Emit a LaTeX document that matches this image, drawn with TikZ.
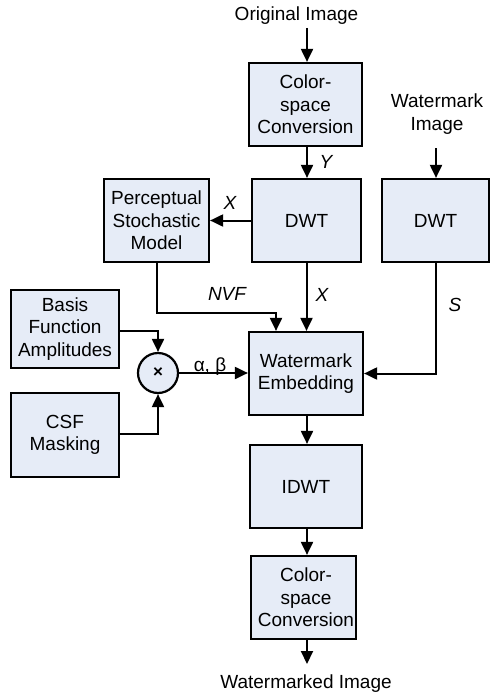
\documentclass[tikz,border=0pt]{standalone}
\usepackage{fontspec}
\setmainfont{Liberation Sans}
\usetikzlibrary{arrows.meta}
\definecolor{boxfill}{RGB}{230,236,247}
\begin{document}
\begin{tikzpicture}[x=1pt,y=-1pt,
  font=\fontsize{19}{22.5}\selectfont,
  blk/.style={draw=black,fill=boxfill,line width=2.2pt,inner sep=0pt,align=center},
  arr/.style={line width=2pt,-{Triangle[length=13pt,width=12pt]}},
  lbl/.style={inner sep=0pt,font=\fontsize{19}{22.5}\selectfont\itshape},
  txt/.style={inner sep=0pt,align=center}]
\useasboundingbox (0,0) rectangle (490,693);
% boxes
\node[blk,minimum width=113pt,minimum height=83pt] (cs1) at (305.5,104.5) {Color-\\space\\Conversion};
\node[blk,minimum width=109pt,minimum height=83pt] (dwt1) at (306.5,220.5) {DWT};
\node[blk,minimum width=107pt,minimum height=83pt] (dwt2) at (435.5,220.5) {DWT};
\node[blk,minimum width=105pt,minimum height=83pt] (psm) at (156.5,220.5) {Perceptual\\Stochastic\\Model};
\node[blk,minimum width=108pt,minimum height=78pt] (basis) at (65,329) {Basis\\Function\\Amplitudes};
\node[blk,minimum width=108pt,minimum height=84pt] (csf) at (65,435) {CSF\\Masking};
\node[blk,circle,minimum size=40pt] (mul) at (158,373) {\fontsize{17}{18}\selectfont\bfseries ×};
\node[blk,minimum width=114pt,minimum height=83pt] (we) at (306,373.5) {Watermark\\Embedding};
\node[blk,minimum width=112pt,minimum height=83pt] (idwt) at (306,486.5) {IDWT};
\node[blk,minimum width=105pt,minimum height=83pt] (cs2) at (303.5,597.5) {};
\node[txt] (cs2t) at (306,597.5) {Color-\\space\\Conversion};
% texts
\node[txt,anchor=base] (orig) at (296.5,21) {Original Image};
\coordinate (origb) at (307,28);
\node[txt] (wmi) at (437,114) {Watermark\\Image};
\coordinate (wmib) at (436,148);
\node[txt,anchor=base] (out) at (306,688) {Watermarked Image};
\coordinate (outt) at (307,664);
% connectors
\draw[arr] (origb) -- (origb |- cs1.north);
\draw[arr] (cs1.south -| origb) -- (origb |- dwt1.north);
\draw[arr] (dwt1.west) -- (psm.east);
\draw[arr] (dwt1.south) -- (dwt1.south |- we.north);
\draw[arr] (psm.south) -- (psm.south |- 0,313) -| ([xshift=-30pt]we.north);
\draw[arr] (wmib) -- (wmib |- dwt2.north);
\draw[arr] (dwt2.south) |- (we.east);
\draw[arr] ([yshift=-2pt]basis.east) -| (mul.north);
\draw[arr] ([yshift=1pt]csf.east) -| (mul.south);
\draw[arr] (mul.east) -- (mul.east -| we.west);
\draw[arr] (we.south -| origb) -- (origb |- idwt.north);
\draw[arr] (idwt.south -| origb) -- (origb |- cs2.north);
\draw[arr] (cs2.south -| origb) -- (outt);
% labels
\node[lbl] (ly) at (326,162) {Y};
\node[lbl] (lx1) at (230,203) {X};
\node[lbl] (lx2) at (322,295) {X};
\node[lbl] (lnvf) at (227,294) {NVF};
\node[lbl] (ls) at (455,305) {S};
\node[txt] (lab) at (210,367) {α, β};
\end{tikzpicture}
\end{document}
